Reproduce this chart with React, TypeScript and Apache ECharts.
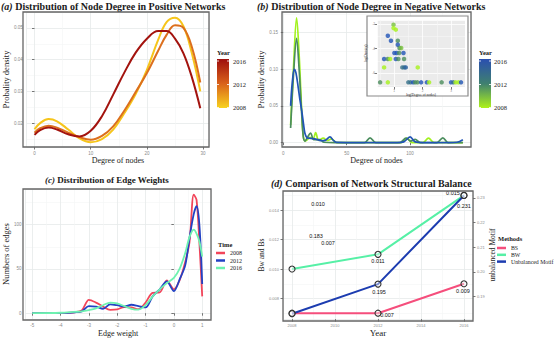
import React, { useEffect, useRef } from 'react';
import * as echarts from 'echarts';

// ---------- (a) positive networks: degree density ----------
const posDegree = [0, 1, 2.5, 4, 6, 8, 10, 12, 14, 16, 18, 20, 22, 23.5, 25, 26.5, 28, 29.5];
const posDensity2008 = [0.0181, 0.0200, 0.0213, 0.0206, 0.0180, 0.0152, 0.0140, 0.0150, 0.0180, 0.0232, 0.0292, 0.0368, 0.0462, 0.0518, 0.0532, 0.0505, 0.0420, 0.0300];
const posDensity2012 = [0.0170, 0.0184, 0.0192, 0.0186, 0.0170, 0.0156, 0.0148, 0.0160, 0.0190, 0.0240, 0.0298, 0.0358, 0.0428, 0.0478, 0.0508, 0.0500, 0.0440, 0.0328];
const posDensity2016 = [0.0163, 0.0178, 0.0186, 0.0180, 0.0165, 0.0158, 0.0176, 0.0222, 0.0290, 0.0360, 0.0422, 0.0466, 0.0490, 0.0490, 0.0466, 0.0420, 0.0345, 0.0247];

// ---------- (b) negative networks: degree density ----------
const negDegree2008 = [5.8, 8, 10.5, 12.5, 14.5, 15.8, 17.5, 19, 21, 23.5, 25.5, 28, 31.6, 34.7, 38, 41.6, 45, 93, 97.4, 101.5, 110, 114.5, 119, 141.6];
const negDensity2008 = [0.024, 0.100, 0.170, 0.120, 0.045, 0.008, 0.002, 0.004, 0.007, 0.005, 0.0135, 0.003, 0.006, 0.003, 0.005, 0.0003, 0, 0, 0.006, 0, 0, 0.006, 0, 0];
const negDegree2012 = [5.8, 8, 10.5, 12.5, 14.5, 15.8, 17.1, 19, 21.5, 24, 26.5, 29, 32, 40, 64, 68.4, 73, 92, 96.8, 100.5, 104, 108, 121, 125.8, 130, 141.6];
const negDensity2012 = [0.020, 0.090, 0.142, 0.100, 0.040, 0.008, 0.002, 0.007, 0.013, 0.004, 0.004, 0.004, 0.0005, 0, 0, 0.0065, 0, 0, 0.0063, 0.002, 0.0045, 0, 0, 0.0065, 0, 0];
const negDegree2016 = [5.8, 7, 8.7, 10, 11.8, 13, 14.5, 16, 17, 18.5, 20, 23.5, 27, 30, 33, 36.8, 39.5, 42, 60, 90, 95, 100, 104, 110, 130, 137, 141.6];
const negDensity2016 = [0.050, 0.080, 0.100, 0.095, 0.075, 0.060, 0.044, 0.025, 0.013, 0.007, 0.006, 0.0055, 0.004, 0.0025, 0.003, 0.0077, 0.003, 0.0003, 0, 0, 0.001, 0.0077, 0.001, 0, 0, 0.0005, 0.004];

// inset: log-log scatter
const insetLogDegree = [0.98, 0.98, 1.06, 0.78, 0.89, 1.13, 1.13, 1.19, 1.25, 1.01, 1.09, 1.18, 1.33, 0.65, 0.78, 0.86, 1.06, 1.15, 1.35, 0.65, 1.29, 1.36, 1.41, 1.83, 0.51, 0.78, 1.50, 1.58, 1.67, 1.74, 1.82, 1.95, 2.15, 2.23, 2.67, 3.00, 3.08, 3.16, 3.26, 3.35];
const insetLogDensity = [-2.05, -2.33, -2.46, -2.95, -3.36, -3.36, -3.69, -3.96, -3.96, -4.37, -4.37, -4.37, -4.37, -4.86, -4.86, -4.86, -4.86, -4.86, -4.86, -5.54, -5.54, -5.54, -5.54, -5.54, -6.76, -6.76, -6.76, -6.76, -6.76, -6.76, -6.76, -6.76, -6.76, -6.76, -6.76, -6.76, -6.76, -6.76, -6.76, -6.76];
const insetYear = [2010, 2008, 2008, 2016, 2016, 2012, 2016, 2012, 2010, 2016, 2016, 2012, 2016, 2016, 2012, 2008, 2016, 2012, 2012, 2008, 2014, 2014, 2015, 2008, 2012, 2008, 2014, 2014, 2016, 2012, 2012, 2016, 2016, 2008, 2012, 2016, 2014, 2008, 2008, 2016];

// ---------- (c) edge weights ----------
const edgeWeight = [-5, -4, -3.5, -3.25, -3, -2.75, -2.5, -2.25, -2, -1.75, -1.5, -1.25, -1, -0.75, -0.5, -0.25, 0, 0.2, 0.4, 0.55, 0.7, 0.8, 0.9, 1.0];
const edgeCount2008 = [0, 0.3, 1, 3, 15, 12, 7.5, 3.7, 4.2, 7, 6.5, 4.5, 12, 23, 23.5, 37, 27, 37, 58, 80, 134, 128, 80, 19];
const edgeCount2012 = [0, 0.3, 1, 2, 8, 7.5, 5, 10, 9, 7.5, 9.5, 8, 6.5, 19, 27, 36, 25, 38, 54, 85, 112, 121, 100, 33];
const edgeCount2016 = [0, 0.5, 1.5, 2, 3.5, 5.5, 9, 12, 11, 8, 5, 4, 9, 19, 27, 34, 40, 50, 68, 86, 94.5, 90, 81, 64];

// ---------- (d) structural balance ----------
const balanceYears = [2008, 2012, 2016];
const bsValues = [0.007, 0.007, 0.009];
const bwValues = [0.010, 0.011, 0.015];
const unbalancedValues = [0.183, 0.195, 0.231];

const yearLabels = ['2016', '2012', '2008'];

// label placement (style, not data)
const bsLabelOffsets = [[36, -70], [9, 2], [-1, 7]];
const bwLabelOffsets = [[26, -65], [0, 7], [-11, -2]];
const umLabelOffsets = [[24, -78], [1, 8], [0, 11]];

const SERIF = '"Liberation Serif", "Times New Roman", serif';
const SANS = '"Liberation Sans", Arial, sans-serif';
const GRID_COLOR = '#e6eaea';
const MINOR_COLOR = '#f3f5f5';
const FRAME = '#666666';

function valueAxis(o: any) {
  return {
    type: 'value',
    gridIndex: o.grid,
    min: o.min,
    max: o.max,
    splitNumber: o.split,
    position: o.position,
    name: o.name,
    nameLocation: 'middle',
    nameGap: o.nameGap,
    nameRotate: o.rotate,
    nameTextStyle: { fontFamily: SERIF, fontSize: o.nameSize || 8, color: '#1a1a1a', fontWeight: o.nameWeight || 'normal' },
    axisLine: { show: false },
    axisTick: { show: o.ticks !== false, length: 2.5, lineStyle: { color: '#555', width: 0.8 } },
    axisLabel: {
      show: o.labels !== false,
      fontSize: o.labelSize || 4.5,
      color: '#8a8a8a',
      fontFamily: SANS,
      margin: o.margin || 4,
      showMinLabel: false,
      showMaxLabel: false,
      formatter: o.fmt,
    },
    splitLine: { show: o.split2 !== false, lineStyle: { color: o.gridColor || GRID_COLOR, width: 0.8 } },
    minorTick: { show: false, splitNumber: 2 },
    minorSplitLine: { show: o.minor !== false, lineStyle: { color: o.minorColor || MINOR_COLOR, width: 0.6 } },
    z: o.z,
  };
}

const toPairs = (xs: number[], ys: number[]) => xs.map((x, i) => [x, ys[i]]);

function titleOf(tag: string, text: string, left: number, top: number, size: number) {
  return {
    text: `{i|${tag}} ${text}`,
    left,
    top,
    padding: 0,
    textStyle: {
      fontFamily: SERIF,
      fontSize: size,
      fontWeight: 'bold',
      color: '#1a1a1a',
      rich: { i: { fontFamily: SERIF, fontSize: size, fontWeight: 'bold', fontStyle: 'italic', color: '#1a1a1a' } },
    },
  };
}

function colorbar(x: number, y: number, stops: string[], labelX: number) {
  const labelYs = [61, 84.5, 107.5];
  return [
    { type: 'text', left: x, top: y - 10, style: { text: 'Year', font: `bold 6.5px ${SERIF}`, fill: '#1a1a1a' }, z: 30 },
    {
      type: 'rect',
      shape: { x, y, width: 12, height: 49 },
      style: {
        fill: {
          type: 'linear', x: 0, y: 0, x2: 0, y2: 1,
          colorStops: [{ offset: 0, color: stops[0] }, { offset: 0.5, color: stops[1] }, { offset: 1, color: stops[2] }],
        },
      },
      z: 30,
    },
    ...yearLabels.map((t, i) => ({
      type: 'text', x: labelX, y: labelYs[i],
      style: { text: t, font: `6.5px ${SERIF}`, fill: '#1a1a1a', verticalAlign: 'middle' }, z: 30,
    })),
    ...labelYs.map((ly) => ({ type: 'line', shape: { x1: x, y1: ly, x2: x + 2, y2: ly }, style: { stroke: '#fff', lineWidth: 0.8 }, z: 31 })),
    ...labelYs.map((ly) => ({ type: 'line', shape: { x1: x + 10, y1: ly, x2: x + 12, y2: ly }, style: { stroke: '#fff', lineWidth: 0.8 }, z: 31 })),
  ];
}

function frame(x: number, y: number, w: number, h: number) {
  return { type: 'rect', shape: { x, y, width: w, height: h }, style: { fill: 'none', stroke: FRAME, lineWidth: 1.3 }, z: 40 };
}

export default function App() {
  const ref = useRef<HTMLDivElement>(null);
  useEffect(() => {
    if (!ref.current) return;
    const chart = echarts.init(ref.current, undefined, { renderer: 'svg' });

    const lineA = (name: string, ys: number[], color: string) => ({
      type: 'line', name, xAxisIndex: 0, yAxisIndex: 0, data: toPairs(posDegree, ys), smooth: 0.4,
      showSymbol: false, lineStyle: { color, width: 2 }, itemStyle: { color }, z: 3,
    });
    const lineB = (name: string, xs: number[], ys: number[], color: string) => ({
      type: 'line', name, xAxisIndex: 1, yAxisIndex: 1, data: toPairs(xs, ys), smooth: 0.35,
      showSymbol: false, lineStyle: { color, width: 1.7 }, itemStyle: { color }, z: 3,
    });
    const lineC = (name: string, ys: number[], color: string) => ({
      type: 'line', name, xAxisIndex: 2, yAxisIndex: 2, data: toPairs(edgeWeight, ys), smooth: 0.3,
      showSymbol: false, lineStyle: { color, width: 1.8 }, itemStyle: { color }, z: 3,
    });
    const pointStyle = { color: 'rgba(255,255,255,0.4)', borderColor: '#333', borderWidth: 1.1 };
    const lineD = (name: string, ys: number[], yAxisIndex: number, color: string, offsets: number[][], digits: number) => ({
      type: 'line', name, xAxisIndex: 3, yAxisIndex,
      data: balanceYears.map((yr, i) => ({ value: [yr, ys[i]], itemStyle: pointStyle, label: { offset: offsets[i] } })),
      symbol: 'circle', symbolSize: 6, showSymbol: true,
      lineStyle: { color, width: 2 },
      itemStyle: { color },
      label: {
        show: true, position: 'inside', fontSize: 5.5, fontFamily: SANS, color: '#111',
        formatter: (p: any) => p.value[1].toFixed(digits),
      },
      z: 3,
    });

    const option: any = {
      animation: false,
      backgroundColor: '#ffffff',
      title: [
        titleOf('(a)', 'Distribution of Node Degree in Positive Networks', 1, 1, 10),
        titleOf('(b)', 'Distribution of Node Degree in Negative Networks', 257, 1, 10),
        titleOf('(c)', 'Distribution of Edge Weights', 45, 175, 9),
        titleOf('(d)', 'Comparison of Network Structural Balance', 271, 178, 10),
      ],
      grid: [
        { left: 23, top: 12, width: 186, height: 135 },
        { left: 282, top: 12, width: 189, height: 135 },
        { left: 23, top: 189, width: 188, height: 131 },
        { left: 283, top: 191, width: 190, height: 130 },
        { left: 377, top: 20, width: 88, height: 67 },
      ],
      xAxis: [
        valueAxis({ grid: 0, min: -1.4, max: 31.05, split: 3, name: 'Degree of nodes', nameGap: 8, fmt: (v: number) => String(v) }),
        valueAxis({ grid: 1, min: -1, max: 148, split: 3, name: 'Degree of nodes', nameGap: 8, fmt: (v: number) => String(v) }),
        valueAxis({ grid: 2, min: -5.24, max: 1.31, split: 6, name: 'Edge weight', nameGap: 8, fmt: (v: number) => String(v) }),
        valueAxis({ grid: 3, min: 2007.58, max: 2016.42, split: 4, name: 'Year', nameGap: 7, nameSize: 9, labelSize: 4, fmt: (v: number) => String(v) }),
        valueAxis({ grid: 4, min: 0.4, max: 3.49, split: 3, name: 'log(Degree of nodes)', nameGap: 4, nameSize: 3.5, labelSize: 3.2, margin: 2, gridColor: '#ffffff', minorColor: '#f7f7f7', z: 12, fmt: (v: number) => String(v) }),
      ],
      yAxis: [
        valueAxis({ grid: 0, min: 0.0125, max: 0.055, split: 4, name: 'Probality density', nameGap: 12, nameSize: 8.5, rotate: 90, fmt: (v: number) => v.toFixed(2) }),
        valueAxis({ grid: 1, min: -0.006, max: 0.178, split: 4, name: 'Probality density', nameGap: 11, nameSize: 8.5, rotate: 90, fmt: (v: number) => v.toFixed(2) }),
        valueAxis({ grid: 2, min: -6.7, max: 140.4, split: 3, name: 'Numbers of edges', nameGap: 11, nameSize: 8.5, rotate: 90, fmt: (v: number) => String(v) }),
        valueAxis({ grid: 3, min: 0.0066, max: 0.0153, split: 4, name: 'Bw and Bs', nameGap: 13, nameSize: 7.5, rotate: 90, labelSize: 4, fmt: (v: number) => v.toFixed(3) }),
        valueAxis({ grid: 3, min: 0.1808, max: 0.2328, split: 5, position: 'right', name: 'unbalanced Motif', nameGap: 8, nameSize: 7.5, rotate: 90, labelSize: 4, split2: false, minor: false, fmt: (v: number) => v.toFixed(2) }),
        valueAxis({ grid: 4, min: -7.14, max: -1.67, split: 3, name: 'log(Density)', nameGap: 7, nameSize: 3.5, rotate: 90, labelSize: 3.2, margin: 2, gridColor: '#ffffff', minorColor: '#f7f7f7', z: 12, fmt: (v: number) => String(v) }),
      ],
      visualMap: [
        {
          type: 'continuous', show: false, seriesIndex: 6, dimension: 2, min: 2008, max: 2016,
          inRange: { color: ['#a6f21c', '#4b8d5d', '#2154b6'] },
        },
      ],
      legend: [
        {
          data: ['2008', '2012', '2016'], orient: 'vertical', left: 216, top: 250, icon: 'rect',
          itemWidth: 9, itemHeight: 2.5, itemGap: 1.5, padding: 0, selectedMode: false,
          textStyle: { fontFamily: SERIF, fontSize: 6, lineHeight: 6, color: '#1a1a1a' },
        },
        {
          data: ['BS', 'BW', 'Unbalanced Motif'],
          orient: 'vertical', left: 497, top: 245, icon: 'rect',
          itemWidth: 9, itemHeight: 2.5, itemGap: 0.8, padding: 0, selectedMode: false,
          itemStyle: { borderWidth: 0 },
          textStyle: { fontFamily: SERIF, fontSize: 5.8, lineHeight: 5.5, color: '#1a1a1a' },
        },
      ],
      graphic: [
        { type: 'rect', shape: { x: 367, y: 16, width: 101, height: 80 }, style: { fill: '#ffffff', stroke: '#8a8a8a', lineWidth: 1.2 }, z: 10 },
        { type: 'rect', shape: { x: 377, y: 20, width: 88, height: 67 }, style: { fill: '#ebebeb' }, z: 11 },
        ...colorbar(217, 59, ['#9e0e0e', '#d9621a', '#f8d21f'], 233),
        ...colorbar(479, 59, ['#2a4fb0', '#3f8070', '#aef21a'], 494),
        { type: 'text', left: 218, top: 241, style: { text: 'Time', font: `bold 6.5px ${SERIF}`, fill: '#1a1a1a' }, z: 30 },
        { type: 'text', left: 498, top: 235, style: { text: 'Methods', font: `bold 6.5px ${SERIF}`, fill: '#1a1a1a' }, z: 30 },
        frame(23, 12, 186, 135),
        frame(282, 12, 189, 135),
        frame(23, 189, 188, 131),
        frame(283, 191, 190, 130),
      ],
      series: [
        lineA('pos-2008', posDensity2008, '#f6c51b'),
        lineA('pos-2012', posDensity2012, '#dc6f1d'),
        lineA('pos-2016', posDensity2016, '#a3130e'),
        lineB('neg-2008', negDegree2008, negDensity2008, '#a2f21e'),
        lineB('neg-2012', negDegree2012, negDensity2012, '#4b8d5d'),
        lineB('neg-2016', negDegree2016, negDensity2016, '#2154b6'),
        {
          type: 'scatter', name: 'inset', xAxisIndex: 4, yAxisIndex: 5,
          data: insetLogDegree.map((x, i) => [x, insetLogDensity[i], insetYear[i]]),
          symbolSize: 4.5, itemStyle: { opacity: 0.8 }, z: 13,
        },
        lineC('2008', edgeCount2008, '#f2455a'),
        lineC('2012', edgeCount2012, '#2242c4'),
        lineC('2016', edgeCount2016, '#6ef2b0'),
        lineD('BS', bsValues, 3, '#f54e7c', bsLabelOffsets, 3),
        lineD('BW', bwValues, 3, '#56f0a6', bwLabelOffsets, 3),
        lineD('Unbalanced Motif', unbalancedValues, 4, '#1c3cb0', umLabelOffsets, 3),
      ],
    };
    chart.setOption(option);
    return () => chart.dispose();
  }, []);
  return <div ref={ref} style={{ position: 'absolute', left: 0, top: 0, width: 560, height: 338 }} />;
}
